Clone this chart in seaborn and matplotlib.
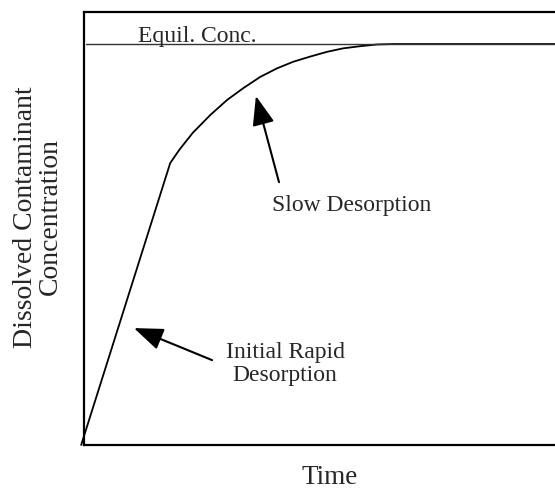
import matplotlib
matplotlib.use("Agg")
import matplotlib.pyplot as plt
import seaborn as sns
import pandas as pd

# Curve (time vs concentration, arbitrary units)
time_vals = [-0.6, 18.3, 19.3, 20.4, 23.1, 26.8, 30.4, 33.8, 37.4, 41.0, 44.4,
             48.0, 51.6, 55.0, 58.6, 62.2, 65.6, 100.0]
conc_vals = [0.0, 65.1, 66.7, 68.4, 72.1, 76.2, 79.7, 82.4, 85.0, 87.0, 88.5,
             89.7, 90.8, 91.6, 92.1, 92.5, 92.6, 92.6]
equil_conc = 92.6

labels = {
    "equil": "Equil. Conc.",
    "slow": "Slow Desorption",
    "rapid": "Initial Rapid\nDesorption",
    "x": "Time",
    "y": "Dissolved Contaminant\nConcentration",
}

sns.set_style("white")
plt.rcParams["font.family"] = ["Liberation Serif", "DejaVu Serif"]

fig = plt.figure(figsize=(5.55, 4.93), dpi=100)
ax = fig.add_axes([84 / 555, 48 / 493, 471 / 555, 433 / 493])

df = pd.DataFrame({"t": time_vals, "c": conc_vals})
sns.lineplot(data=df, x="t", y="c", ax=ax, color="black", linewidth=1.3,
             sort=False, estimator=None, clip_on=False)
ax.plot([0.4, 100], [equil_conc, equil_conc], color="#333333", linewidth=1.0)

ax.set_xlim(0, 100)
ax.set_ylim(0, 100)
ax.set_xticks([])
ax.set_yticks([])
for side in ["left", "top", "bottom"]:
    ax.spines[side].set_visible(True)
    ax.spines[side].set_linewidth(1.6)
    ax.spines[side].set_color("black")
ax.spines["right"].set_visible(False)

ax.text(11.5, 93.1, labels["equil"], fontsize=17, ha="left", va="baseline")

arrow = dict(arrowstyle="-|>,head_length=1.8,head_width=0.68", color="black",
             linewidth=1.5, mutation_scale=10, shrinkA=0, shrinkB=0)
ax.annotate("", xy=(36.5, 80.6), xytext=(41.4, 60.7), arrowprops=arrow)
ax.annotate("", xy=(10.6, 27.0), xytext=(27.2, 19.6), arrowprops=arrow)

ax.text(56.9, 55.4, labels["slow"], fontsize=17, ha="center", va="center")
ax.text(42.7, 18.7, labels["rapid"], fontsize=17, ha="center", va="center",
        linespacing=1.12, multialignment="center")

ax.set_xlabel(labels["x"], fontsize=19.5)
ax.xaxis.set_label_coords(0.522, -0.076)
ax.xaxis.label.set_va("center")
ax.set_ylabel(labels["y"], fontsize=20, linespacing=1.0)
ax.yaxis.set_label_coords(-0.0977, 0.527)
ax.yaxis.label.set_va("center")

fig.savefig("out.png", dpi=100)
